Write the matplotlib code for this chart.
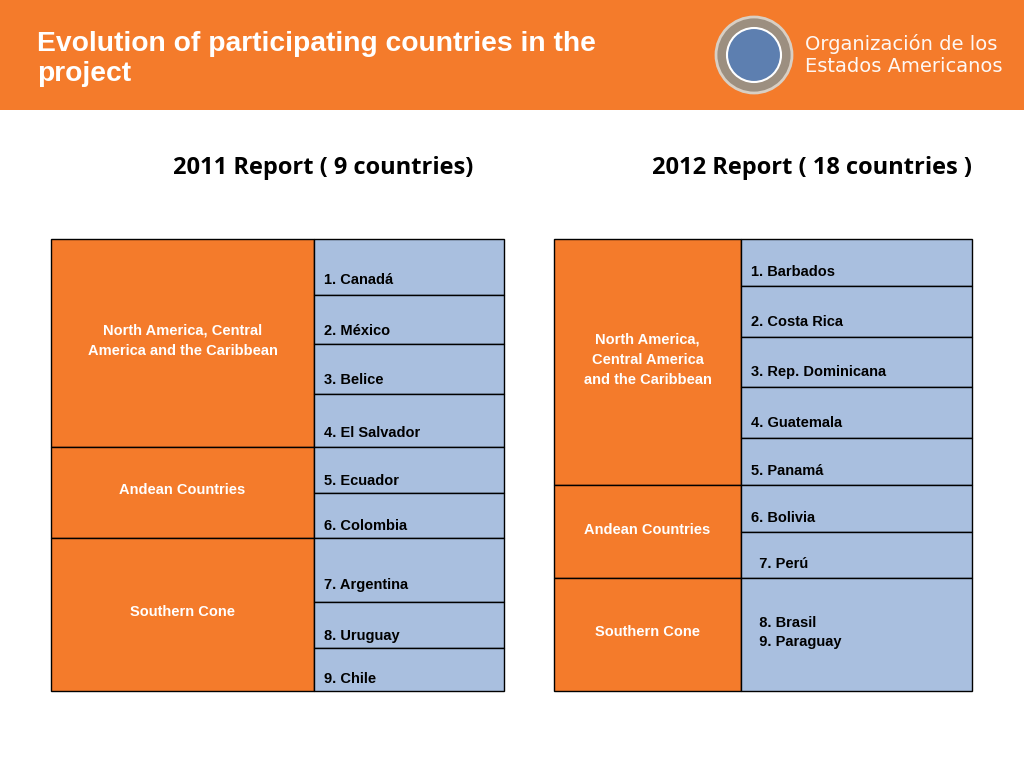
import matplotlib
matplotlib.use("Agg")
import matplotlib.pyplot as plt
from matplotlib.patches import Rectangle, Circle

title = "Evolution of participating countries in the\nproject"
head_left = "2011 Report ( 9 countries)"
head_right = "2012 Report ( 18 countries )"

left_regions = ["North America, Central\nAmerica and the Caribbean", "Andean Countries", "Southern Cone"]
left_region_rows = [4, 2, 3]
left_countries = ["1. Canadá", "2. México", "3. Belice", "4. El Salvador", "5. Ecuador",
                  "6. Colombia", "7. Argentina", "8. Uruguay", "9. Chile"]
left_edges = [239, 295, 344, 394, 447, 493, 538, 602, 648, 691]

right_regions = ["North America,\nCentral America\nand the Caribbean", "Andean Countries", "Southern Cone"]
right_region_rows = [5, 2, 1]
right_countries = ["1. Barbados", "2. Costa Rica", "3. Rep. Dominicana", "4. Guatemala",
                   "5. Panamá", "6. Bolivia", "  7. Perú", "  8. Brasil\n  9. Paraguay"]
right_edges = [239, 286, 337, 387, 438, 485, 532, 578, 691]

ORANGE = "#F47B2B"
BLUE = "#A9BFDF"

fig = plt.figure(figsize=(10.24, 7.68), dpi=100)
ax = fig.add_axes([0, 0, 1, 1])
ax.set_xlim(0, 1024)
ax.set_ylim(768, 0)
ax.axis("off")

ax.add_patch(Rectangle((0, 0), 1024, 110, color=ORANGE, lw=0))
ax.text(37, 59, title, color="white", fontsize=20.3, fontweight="bold",
        family="Liberation Sans", va="center", ha="left", linespacing=1.2)
# logo
ax.add_patch(Circle((754, 55), 38, facecolor="#9c8f80", edgecolor="#d8cfc4", lw=2))
ax.add_patch(Circle((754, 55), 27, facecolor="#5d7fb0", edgecolor="white", lw=1.5))
ax.text(805, 55, "Organización de los\nEstados Americanos", color="white", fontsize=14,
        family="DejaVu Sans", va="center", ha="left", linespacing=1.2, alpha=0.95)

ax.text(323, 168, head_left, fontsize=17, fontweight="bold", family="Open Sans",
        ha="center", va="center")
ax.text(812, 168, head_right, fontsize=17, fontweight="bold", family="Open Sans",
        ha="center", va="center")

FS = 10.5
FAM = "Liberation Sans"

def table(x0, x1, x2, regions, rrows, countries, edges, cty_va):
    idx = 0
    for name, n in zip(regions, rrows):
        y0, y1 = edges[idx], edges[idx + n]
        ax.add_patch(Rectangle((x0, y0), x1 - x0, y1 - y0, facecolor=ORANGE, edgecolor="black", lw=1))
        ax.text((x0 + x1) / 2, (y0 + y1) / 2 - 2, name, color="white", fontsize=FS,
                fontweight="bold", family=FAM, ha="center", va="center", linespacing=1.55)
        idx += n
    for i, c in enumerate(countries):
        y0, y1 = edges[i], edges[i + 1]
        ax.add_patch(Rectangle((x1, y0), x2 - x1, y1 - y0, facecolor=BLUE, edgecolor="black", lw=1))
        ty = y0 + (y1 - y0) * cty_va
        if "\n" in c:
            ty = (y0 + y1) / 2 - 2
        ax.text(x1 + 10, ty, c, color="black", fontsize=FS, fontweight="bold",
                family=FAM, ha="left", va="center", linespacing=1.4)

table(51, 314, 504, left_regions, left_region_rows, left_countries, left_edges, 0.73)
table(554, 741, 972, right_regions, right_region_rows, right_countries, right_edges, 0.7)

fig.savefig("out.png", dpi=100)
